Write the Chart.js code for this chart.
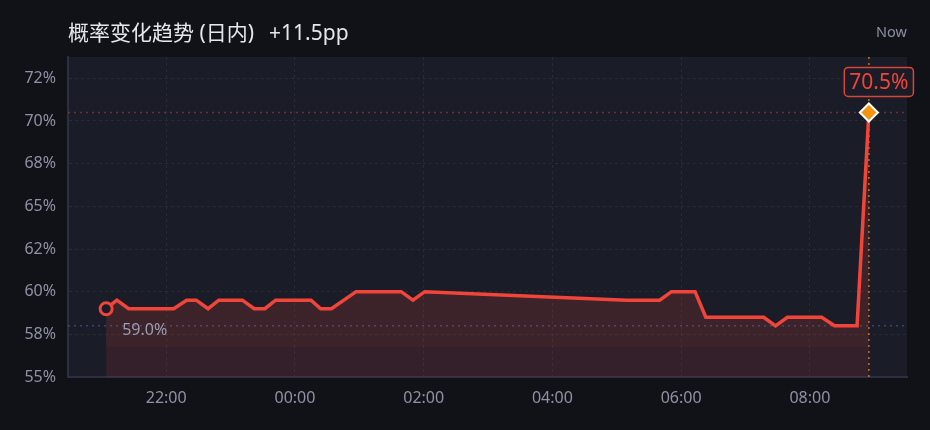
<!DOCTYPE html>
<html>
<head>
<meta charset="utf-8">
<script src="https://cdn.jsdelivr.net/npm/chart.js@4.4.0/dist/chart.umd.min.js"></script>
<style>
    html, body { margin: 0; padding: 0; background: #111217; }
    #wrap { position: relative; width: 930px; height: 430px; }
    #probChart { position: absolute; left: 0; top: 0; }
    #title {
        position: absolute; left: 68px; top: 20px;
        font: 21px/24px "Noto Sans", "Noto Sans CJK SC", sans-serif;
        color: #e6e7ec; white-space: nowrap;
    }
    #title .delta { margin-left: 15px; }
    #now {
        position: absolute; right: 23px; top: 20px;
        font: 14.5px/22px "Noto Sans", sans-serif; color: #8b8fa2;
    }
</style>
</head>
<body>
<div id="wrap">
    <canvas id="probChart" width="930" height="430"></canvas>
    <div id="title">概率变化趋势 (日内)<span class="delta">+11.5pp</span></div>
    <div id="now">Now</div>
</div>
<script>
// Sample times (evening before -> this morning)
const times = ['21:04', '21:14', '21:25', '22:07', '22:19', '22:28', '22:39', '22:49',
    '23:11', '23:22', '23:32', '23:42', '00:15', '00:24', '00:34', '00:57',
    '01:39', '01:50', '02:01', '05:09', '05:40', '05:51', '06:13', '06:23',
    '07:17', '07:28', '07:39', '08:11', '08:23', '08:44', '08:55'];

// Probability (%)
const probs = [59.0, 59.5, 59.0, 59.0, 59.5, 59.5, 59.0, 59.5,
    59.5, 59.0, 59.0, 59.5, 59.5, 59.0, 59.0, 60.0,
    60.0, 59.5, 60.0, 59.5, 59.5, 60.0, 60.0, 58.5,
    58.5, 58.0, 58.5, 58.5, 58.0, 58.0, 70.5];

// Axis ticks
const xTickLabels = ['22:00', '00:00', '02:00', '04:00', '06:00', '08:00'];
const yTickValues = [55, 57.5, 60, 62.5, 65, 67.5, 70, 72.5];
const yTickLabels = ['55%', '58%', '60%', '62%', '65%', '68%', '70%', '72%'];
const yMin = 55;
const yMax = 73.75;

// hours relative to midnight, evening hours go negative
function toHours(t) {
    const [h, m] = t.split(':').map(Number);
    const v = h + m / 60;
    return h >= 12 ? v - 24 : v;
}

const xs = times.map(toHours);
const xTickValues = xTickLabels.map(toHours);
const points = xs.map((x, i) => ({ x: x, y: probs[i] }));

const lastIdx = probs.length - 1;
const startVal = probs[0];
const lastVal = probs[lastIdx];
const minVal = Math.min(...probs);

// 5% padding on the time axis
const span = xs[lastIdx] - xs[0];
const xMin = xs[0] - span * 0.05;
const xMax = xs[lastIdx] + span * 0.05;

const LINE_RED = '#f2453a';
const ORANGE = '#f5950f';
const PLOT_BG = '#1a1c27';
const GRID = '#272a38';
const TICK = '#8e92a5';
const FONT = '"Noto Sans", "Noto Sans CJK SC", sans-serif';

// Area fill, a touch lighter above the lower band
function areaFill(c) {
    const a = c.chart.chartArea;
    if (!a) return 'rgba(240, 68, 56, 0.15)';
    const g = c.chart.ctx.createLinearGradient(0, a.top, 0, a.bottom);
    g.addColorStop(0, 'rgba(240, 68, 56, 0.16)');
    g.addColorStop(0.905, 'rgba(240, 68, 56, 0.16)');
    g.addColorStop(0.905, 'rgba(225, 60, 70, 0.13)');
    g.addColorStop(1, 'rgba(225, 60, 70, 0.13)');
    return g;
}

// Background, reference lines and value labels
const overlay = {
    id: 'overlay',
    beforeDraw(chart) {
        const { ctx, chartArea: a } = chart;
        ctx.save();
        ctx.fillStyle = PLOT_BG;
        ctx.fillRect(a.left, a.top, a.right - a.left, a.bottom - a.top);
        ctx.restore();
    },
    beforeDatasetsDraw(chart) {
        const { ctx, chartArea: a, scales: { x, y } } = chart;
        ctx.save();
        ctx.lineWidth = 1.5;
        ctx.setLineDash([2, 4]);

        // current value
        ctx.strokeStyle = 'rgba(190, 60, 60, 0.55)';
        ctx.beginPath();
        ctx.moveTo(a.left, y.getPixelForValue(lastVal));
        ctx.lineTo(a.right, y.getPixelForValue(lastVal));
        ctx.stroke();

        // low of the day
        ctx.strokeStyle = 'rgba(70, 95, 170, 0.6)';
        ctx.beginPath();
        ctx.moveTo(a.left, y.getPixelForValue(minVal));
        ctx.lineTo(a.right, y.getPixelForValue(minVal));
        ctx.stroke();

        // "now" marker
        const nx = x.getPixelForValue(xs[lastIdx]);
        ctx.strokeStyle = 'rgba(245, 149, 15, 0.75)';
        ctx.beginPath();
        ctx.moveTo(nx, a.top);
        ctx.lineTo(nx, a.bottom);
        ctx.stroke();
        ctx.restore();
    },
    afterDatasetsDraw(chart) {
        const { ctx, scales: { x, y } } = chart;
        ctx.save();

        // start label
        const sx = x.getPixelForValue(xs[0]);
        const sy = y.getPixelForValue(startVal);
        ctx.font = '16px ' + FONT;
        ctx.fillStyle = '#9a9eb0';
        ctx.textAlign = 'left';
        ctx.textBaseline = 'middle';
        ctx.fillText(startVal.toFixed(1) + '%', sx + 16, sy + 22);

        // current value box
        const ex = x.getPixelForValue(xs[lastIdx]);
        const ey = y.getPixelForValue(lastVal);
        const text = lastVal.toFixed(1) + '%';
        ctx.font = '21px ' + FONT;
        const tw = ctx.measureText(text).width;
        const bw = tw + 10;
        const bh = 29;
        const bx = ex + 10 - bw / 2;
        const by = ey - 45;
        ctx.fillStyle = 'rgba(26, 28, 39, 0.92)';
        ctx.strokeStyle = '#d8463b';
        ctx.lineWidth = 1.5;
        ctx.beginPath();
        ctx.roundRect(bx, by, bw, bh, 4);
        ctx.fill();
        ctx.stroke();
        ctx.fillStyle = LINE_RED;
        ctx.textAlign = 'center';
        ctx.fillText(text, ex + 10, by + bh / 2 + 1);
        ctx.restore();
    }
};

const ctx = document.getElementById('probChart').getContext('2d');
const probChart = new Chart(ctx, {
    type: 'line',
    data: {
        datasets: [{
            data: points,
            borderColor: LINE_RED,
            borderWidth: 3.5,
            backgroundColor: areaFill,
            fill: 'start',
            tension: 0,
            borderJoinStyle: 'miter',
            pointRadius: c => c.dataIndex === 0 ? 6 : (c.dataIndex === lastIdx ? 9 : 0),
            pointStyle: c => c.dataIndex === lastIdx ? 'rectRot' : 'circle',
            pointBackgroundColor: c => c.dataIndex === lastIdx ? ORANGE : PLOT_BG,
            pointBorderColor: c => c.dataIndex === lastIdx ? '#ffffff' : LINE_RED,
            pointBorderWidth: c => c.dataIndex === lastIdx ? 2 : 3
        }]
    },
    options: {
        responsive: false,
        animation: false,
        layout: { padding: { top: 57, right: 23, bottom: 0, left: 0 } },
        plugins: {
            legend: { display: false },
            tooltip: { enabled: false }
        },
        scales: {
            x: {
                type: 'linear',
                min: xMin,
                max: xMax,
                afterFit: s => { s.height = 53; },
                afterBuildTicks: s => { s.ticks = xTickValues.map(v => ({ value: v })); },
                grid: { color: GRID, drawTicks: false },
                border: { display: true, color: '#2c2f3f', width: 2, dash: [3, 3] },
                ticks: {
                    color: TICK,
                    font: { family: FONT, size: 16 },
                    padding: 12,
                    maxRotation: 0,
                    callback: (v, i) => xTickLabels[i]
                }
            },
            y: {
                min: yMin,
                max: yMax,
                afterFit: s => { s.width = 68; },
                afterBuildTicks: s => { s.ticks = yTickValues.map(v => ({ value: v })); },
                grid: { color: GRID, drawTicks: false },
                border: { display: true, color: '#2c2f3f', width: 2, dash: [3, 3] },
                ticks: {
                    color: TICK,
                    font: { family: FONT, size: 16 },
                    padding: 12,
                    callback: (v, i) => yTickLabels[i]
                }
            }
        }
    },
    plugins: [overlay]
});
</script>
</body>
</html>
